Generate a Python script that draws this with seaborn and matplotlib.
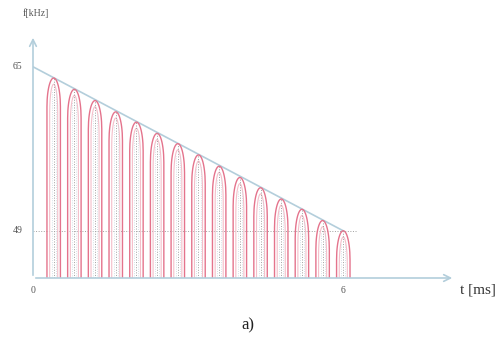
import numpy as np
import pandas as pd
import matplotlib
matplotlib.use('Agg')
import matplotlib.pyplot as plt
import seaborn as sns

# values
peak_t = [0.4, 0.8, 1.2, 1.6, 2.0, 2.4, 2.8, 3.2, 3.6, 4.0, 4.4, 4.8, 5.2, 5.6, 6.0]
peak_f = [63.9, 62.8, 61.7, 60.6, 59.6, 58.5, 57.5, 56.4, 55.3, 54.2, 53.2, 52.1, 51.1, 50.0, 49.0]
sweep_t = [0, 6]
sweep_f = [65, 49]
y_ticks = [65, 49]
x_ticks = [0, 6]

sns.set_theme(style='white')
plt.rcParams['font.family'] = ['Liberation Serif', 'DejaVu Serif']

fig = plt.figure(figsize=(4.96, 3.39), dpi=100)
ax = fig.add_axes([33 / 496, 61 / 339, 422 / 496, 243 / 339])
x_max, y_min, y_max = 8.16, 44.4, 68.1
ax.set_xlim(0, x_max)
ax.set_ylim(y_min, y_max)
ax.axis('off')

axis_col = '#b3cedb'
red = '#e4738c'
pink = '#f4bfca'
grey = '#a0a0a0'

# axes with arrow heads
ax.annotate('', xy=(x_max, y_min), xytext=(0, y_min),
            arrowprops=dict(arrowstyle='->', color=axis_col, lw=1.2), annotation_clip=False)
ax.annotate('', xy=(0, y_max), xytext=(0, y_min),
            arrowprops=dict(arrowstyle='->', color=axis_col, lw=1.2), annotation_clip=False)

# dotted guide at 49 kHz
ax.plot([0, 6.25], [49, 49], ls=':', color=grey, lw=0.7)

# frequency sweep line
sweep = pd.DataFrame({'t': sweep_t, 'f': sweep_f})
sns.lineplot(data=sweep, x='t', y='f', ax=ax, color=axis_col, lw=1.2)

# pulses: vertical sides with a rounded top
hw, arch = 0.13, 2.8
u = np.linspace(-1, 1, 60)
for t, f in zip(peak_t, peak_f):
    top = f - arch + arch * np.sqrt(1 - u ** 2)
    xs = np.concatenate([[t - hw], t + hw * u, [t + hw]])
    ys = np.concatenate([[y_min], top, [y_min]])
    ax.plot(xs, ys, color=red, lw=1.0)
    # inner lighter arch
    top2 = f - 0.6 - arch + arch * np.sqrt(1 - u ** 2)
    xs2 = np.concatenate([[t - hw * 0.6], t + hw * 0.6 * u, [t + hw * 0.6]])
    ys2 = np.concatenate([[y_min], top2, [y_min]])
    ax.plot(xs2, ys2, color=pink, lw=0.8)
    ax.plot([t, t], [y_min, f], ls=':', color=grey, lw=0.7)
    ax.plot([t - hw * 0.3, t - hw * 0.3], [y_min, f - 1.2], ls=':', color='#c8d8e0', lw=0.6)
    ax.plot([t + hw * 0.3, t + hw * 0.3], [y_min, f - 1.2], ls=':', color='#c8d8e0', lw=0.6)

# tick labels
txt = '#555555'
for v in y_ticks:
    ax.text(-0.2, v, str(v), ha='right', va='center', fontsize=7, color=txt)
for v in x_ticks:
    ax.text(v, y_min - 1.2, str(v), ha='center', va='center', fontsize=7, color=txt)

ax.text(0.05, y_max + 2.1, 'f[kHz]', ha='center', va='center', fontsize=7, color=txt)
ax.text(x_max + 0.1, y_min - 1.2, 't [ms]', ha='left', va='center', fontsize=11, color='#333333')
fig.text(248 / 496, 1 - 325 / 339, 'a)', ha='center', va='center', fontsize=12, color='#222222')

fig.savefig('out.png', dpi=100)
